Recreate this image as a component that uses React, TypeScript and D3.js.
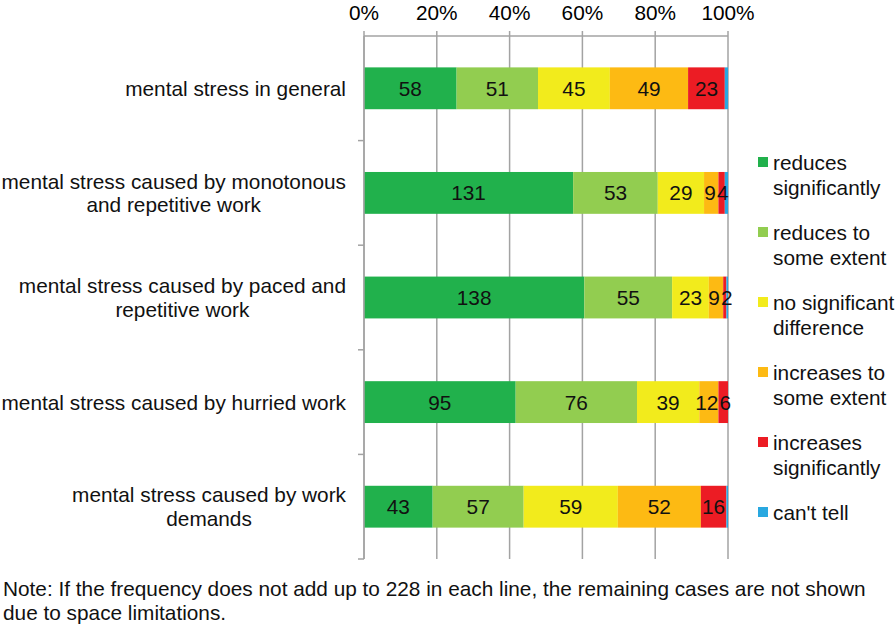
import React, { useEffect, useRef } from 'react';
import * as d3 from 'd3';

const categories = [
  ['mental stress in general'],
  ['mental stress caused by monotonous', 'and repetitive work'],
  ['mental stress caused by paced and', 'repetitive work'],
  ['mental stress caused by hurried work'],
  ['mental stress caused by work', 'demands'],
];

const seriesNames = [
  ['reduces', 'significantly'],
  ['reduces to', 'some extent'],
  ['no significant', 'difference'],
  ['increases to', 'some extent'],
  ['increases', 'significantly'],
  ["can't tell"],
];

const reducesSignificantly = [58, 131, 138, 95, 43];
const reducesSomeExtent = [51, 53, 55, 76, 57];
const noSignificantDifference = [45, 29, 23, 39, 59];
const increasesSomeExtent = [49, 9, 9, 12, 52];
const increasesSignificantly = [23, 4, 2, 6, 16];
const cantTell = [2, 2, 1, 0, 1];

const TOTAL = 228;
const xTicks = [0, 20, 40, 60, 80, 100];

const COLORS = ['#21b14c', '#92cd50', '#f2eb1c', '#fdba13', '#ec1c24', '#29a8e0'];

const noteLines = [
  'Note: If the frequency does not add up to 228 in each line, the remaining cases are not shown',
  'due to space limitations.',
];

const FONT = '"Liberation Sans", Arial, sans-serif';
const FS = 20.8;

const App: React.FC = () => {
  const svgRef = useRef<SVGSVGElement | null>(null);

  useEffect(() => {
    if (!svgRef.current) return;
    const svg = d3.select(svgRef.current);
    svg.selectAll('*').remove();

    const left = 364, right = 728, top = 36, bottom = 559;
    const allSeries = [
      reducesSignificantly,
      reducesSomeExtent,
      noSignificantDifference,
      increasesSomeExtent,
      increasesSignificantly,
      cantTell,
    ];

    const xScale = d3.scaleLinear().domain([0, 100]).range([left, right]);
    const yScale = d3.scaleBand<number>()
      .domain(categories.map((_, i) => i))
      .range([top, bottom])
      .paddingInner(0.6)
      .paddingOuter(0.3);

    // stack as percent of 228
    const rows = categories.map((_, i) => {
      const r: { [key: string]: number } = {};
      allSeries.forEach((s, k) => { r['s' + k] = (s[i] / TOTAL) * 100; });
      return r;
    });
    const stack = d3.stack<{ [key: string]: number }>().keys(allSeries.map((_, k) => 's' + k));
    const series = stack(rows);

    // gridlines + top axis
    const grid = svg.append('g');
    grid.selectAll('line.grid')
      .data(xTicks)
      .enter().append('line')
      .attr('x1', d => xScale(d)).attr('x2', d => xScale(d))
      .attr('y1', top - 5).attr('y2', bottom)
      .attr('stroke', '#a3a3a3').attr('stroke-width', 1.5);
    grid.append('line')
      .attr('x1', left).attr('x2', right).attr('y1', top).attr('y2', top)
      .attr('stroke', '#a3a3a3').attr('stroke-width', 1.5);

    svg.append('g').selectAll('text')
      .data(xTicks)
      .enter().append('text')
      .attr('x', d => xScale(d))
      .attr('y', 20)
      .attr('text-anchor', 'middle')
      .attr('font-family', FONT)
      .attr('font-size', FS)
      .text(d => `${d}%`);

    // left axis ticks at band boundaries
    const step = yScale.step();
    const boundaries = d3.range(1, categories.length + 1).map(k => top + k * step);
    svg.append('g').selectAll('line')
      .data(boundaries)
      .enter().append('line')
      .attr('x1', left - 6).attr('x2', left)
      .attr('y1', d => d).attr('y2', d => d)
      .attr('stroke', '#a3a3a3').attr('stroke-width', 1.5);

    // bars
    const layers = svg.append('g').selectAll('g.layer')
      .data(series)
      .enter().append('g')
      .attr('fill', (_, k) => COLORS[k]);

    layers.selectAll('rect')
      .data(d => d as d3.SeriesPoint<{ [key: string]: number }>[])
      .enter().append('rect')
      .attr('x', d => xScale(d[0]))
      .attr('y', (_, i) => yScale(i)!)
      .attr('width', d => Math.max(0, xScale(d[1]) - xScale(d[0])))
      .attr('height', yScale.bandwidth());

    // left axis line drawn over bars
    svg.append('line')
      .attr('x1', left).attr('x2', left).attr('y1', top).attr('y2', bottom)
      .attr('stroke', '#a3a3a3').attr('stroke-width', 1.5);

    // value labels (not for "can't tell"); nudge apart labels of thin segments
    categories.forEach((_, i) => {
      const g = svg.append('g');
      const y = yScale(i)! + yScale.bandwidth() / 2 + 7.5;
      const labels = series.slice(0, 5).map((s, k) => {
        const d = s[i];
        const cx = (xScale(d[0]) + xScale(d[1])) / 2;
        const t = g.append('text')
          .attr('x', cx)
          .attr('y', y)
          .attr('text-anchor', 'middle')
          .attr('font-family', FONT)
          .attr('font-size', FS)
          .attr('fill', '#111')
          .text(allSeries[k][i]);
        return { t, cx, w: (t.node() as SVGTextElement).getComputedTextLength() };
      });
      for (let k = 1; k < labels.length; k++) {
        const a = labels[k - 1], b = labels[k];
        const gap = (b.cx - b.w / 2) - (a.cx + a.w / 2);
        if (gap < 1) {
          const shift = (1 - gap) / 2;
          a.cx -= shift;
          b.cx += shift;
          a.t.attr('x', a.cx);
          b.t.attr('x', b.cx);
        }
      }
    });

    // category labels, multi-line centred block right aligned at 346
    categories.forEach((lines, i) => {
      const g = svg.append('g');
      const cy = yScale(i)! + yScale.bandwidth() / 2;
      const lh = 23.5;
      const texts = lines.map((line, j) =>
        g.append('text')
          .attr('y', cy + 7.5 + (j - (lines.length - 1) / 2) * lh)
          .attr('text-anchor', 'middle')
          .attr('font-family', FONT)
          .attr('font-size', FS)
          .attr('fill', '#111')
          .text(line)
      );
      const w = Math.max(...texts.map(t => (t.node() as SVGTextElement).getComputedTextLength()));
      texts.forEach(t => t.attr('x', 346 - w / 2));
    });

    // legend
    const legend = svg.append('g');
    seriesNames.forEach((lines, k) => {
      const y0 = 162 + k * 70;
      legend.append('rect')
        .attr('x', 758).attr('y', y0 - 5)
        .attr('width', 10).attr('height', 10)
        .attr('fill', COLORS[k]);
      lines.forEach((line, j) => {
        legend.append('text')
          .attr('x', 773)
          .attr('y', y0 + 7.5 + j * 25)
          .attr('font-family', FONT)
          .attr('font-size', FS)
          .attr('fill', '#111')
          .text(line);
      });
    });

    // note
    svg.append('g').selectAll('text')
      .data(noteLines)
      .enter().append('text')
      .attr('x', 3)
      .attr('y', (_, j) => 596 + j * 24)
      .attr('font-family', FONT)
      .attr('font-size', FS)
      .attr('fill', '#111')
      .text(d => d);
  }, []);

  return (
    <div>
      <style>{'body{margin:0;background:#fff}'}</style>
      <svg ref={svgRef} width={896} height={625} style={{ display: 'block', background: '#fff' }} />
    </div>
  );
};

export default App;
